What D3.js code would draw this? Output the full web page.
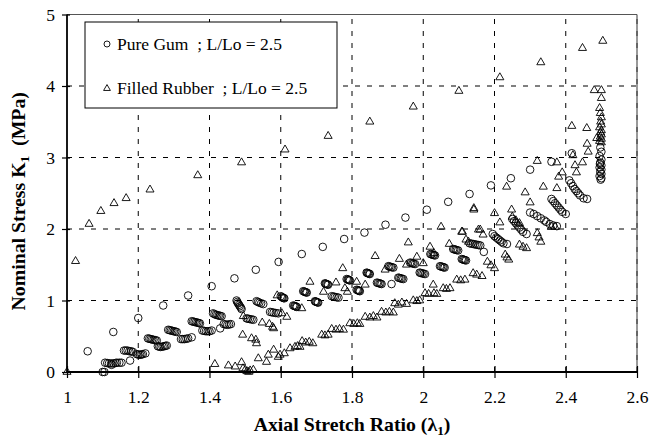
<!DOCTYPE html>
<html><head><meta charset="utf-8">
<script src="https://cdn.jsdelivr.net/npm/d3@7"></script>
<style>body{margin:0;background:#fff}svg{display:block}</style>
</head><body>
<svg id="c" width="667" height="437"></svg>
<script>
const xTicks=[1,1.2,1.4,1.6,1.8,2,2.2,2.4,2.6];
const xTickLabels=["1","1.2","1.4","1.6","1.8","2","2.2","2.4","2.6"];
const yTicks=[0,1,2,3,4,5];
const yTickLabels=["0","1","2","3","4","5"];
const seriesNames=["Pure Gum  ; L/Lo = 2.5","Filled Rubber  ; L/Lo = 2.5"];

// Pure Gum (circles)
const pureGumX=[1.058,1.13,1.20,1.27,1.34,1.406,1.47,1.53,1.594,1.659,1.718,1.778,1.835,1.894,1.95,2.01,2.07,2.13,2.19,2.246,2.30,2.36,2.417,
2.497,2.5,2.495,2.5,2.497,2.5,2.495,2.5,2.497,2.5,2.495,2.5,2.498,2.496,
1.10,1.105,
1.107,1.113,1.118,1.124,1.13,1.136,1.14,1.147,1.153,1.125,1.177,
1.16,1.165,1.17,1.175,1.18,1.185,
1.196,1.2,1.205,1.209,1.213,1.22,
1.227,1.231,1.235,1.239,1.243,1.248,1.252,
1.255,1.259,1.263,1.268,1.272,1.276,1.28,
1.284,1.288,1.292,1.296,1.30,1.304,1.308,
1.32,1.325,1.33,1.335,1.34,1.35,
1.35,1.354,1.358,1.362,1.366,1.37,1.373,
1.38,1.385,1.39,1.395,1.40,1.406,
1.41,1.414,1.418,1.422,1.426,1.43,1.434,1.43,
1.44,1.445,1.45,1.455,1.46,
1.476,1.478,1.48,1.483,1.485,1.488,1.49,
1.504,1.508,1.513,1.518,1.523,
1.532,1.536,1.54,1.545,1.551,
1.57,1.575,1.58,1.586,1.593,
1.60,1.603,1.605,1.608,1.61,
1.635,1.638,1.64,1.643,1.645,
1.663,1.666,1.668,1.671,1.673,
1.696,1.698,1.70,1.703,1.705,
1.724,1.726,1.728,1.731,1.733,
1.743,1.748,1.752,1.757,1.762,
1.785,1.788,1.79,1.792,1.794,
1.813,1.816,1.818,1.82,1.822,
1.841,1.843,1.845,1.848,1.85,
1.87,1.873,1.877,1.88,1.883,
1.902,1.905,1.909,1.912,1.916,1.911,
1.93,1.933,1.937,1.94,1.944,
1.963,1.966,1.97,1.973,1.977,
1.99,1.993,1.997,2.001,2.005,
2.02,2.023,2.027,2.03,2.033,
2.047,2.05,2.054,2.057,2.06,
2.084,2.087,2.091,2.094,2.098,
2.108,2.111,2.114,2.117,2.12,
2.13,2.135,2.14,2.145,2.15,2.155,2.16,2.17,
2.195,2.2,2.205,2.21,2.215,2.22,2.225,2.235,
2.25,2.255,2.26,2.265,2.27,2.275,2.28,2.29,
2.30,2.31,2.32,2.33,2.34,2.345,2.355,2.365,2.375,
2.36,2.365,2.37,2.375,2.38,2.385,2.39,2.40,
2.41,2.415,2.42,2.425,2.43,2.435,2.44,2.45,2.46];
const pureGumY=[0.29,0.56,0.755,0.93,1.07,1.20,1.31,1.43,1.54,1.65,1.75,1.86,1.95,2.06,2.16,2.27,2.38,2.49,2.61,2.71,2.83,2.94,3.06,
3.14,3.08,3.02,2.97,2.93,2.89,2.86,2.83,2.80,2.77,2.74,2.71,2.69,2.91,
0.0,0.0,
0.13,0.125,0.12,0.12,0.12,0.125,0.13,0.13,0.13,0.10,0.16,
0.30,0.30,0.30,0.29,0.29,0.28,
0.25,0.245,0.24,0.245,0.25,0.26,
0.47,0.465,0.46,0.455,0.45,0.445,0.44,
0.36,0.355,0.35,0.355,0.36,0.365,0.37,
0.59,0.585,0.58,0.575,0.57,0.565,0.56,
0.46,0.46,0.46,0.465,0.47,0.485,
0.71,0.705,0.70,0.695,0.69,0.685,0.68,
0.58,0.575,0.57,0.57,0.57,0.58,
0.82,0.81,0.80,0.795,0.79,0.785,0.78,0.61,
0.67,0.665,0.66,0.665,0.67,
1.0,0.98,0.96,0.94,0.92,0.90,0.88,
0.75,0.745,0.74,0.735,0.73,
0.99,0.98,0.97,0.96,0.95,
0.84,0.835,0.83,0.825,0.82,
1.06,1.05,1.04,1.035,1.03,
0.93,0.925,0.92,0.915,0.91,
1.13,1.125,1.12,1.115,1.11,
0.99,0.985,0.98,0.975,0.97,
1.24,1.235,1.23,1.225,1.22,
1.06,1.055,1.05,1.045,1.04,
1.30,1.295,1.29,1.285,1.28,
1.15,1.145,1.14,1.135,1.13,
1.39,1.385,1.38,1.375,1.37,
1.25,1.245,1.24,1.235,1.23,
1.48,1.475,1.47,1.465,1.46,1.23,
1.32,1.315,1.31,1.305,1.30,
1.53,1.525,1.52,1.515,1.51,
1.39,1.385,1.38,1.375,1.37,
1.65,1.645,1.64,1.635,1.63,
1.48,1.475,1.47,1.465,1.46,
1.72,1.715,1.71,1.705,1.70,
1.58,1.575,1.57,1.565,1.56,
1.80,1.795,1.79,1.785,1.78,1.775,1.77,1.68,
1.93,1.90,1.88,1.86,1.84,1.82,1.80,1.79,
2.14,2.11,2.08,2.05,2.02,1.99,1.96,1.93,
2.23,2.21,2.18,2.15,2.12,2.10,2.07,2.05,2.04,
2.42,2.39,2.36,2.33,2.30,2.27,2.24,2.21,
2.68,2.64,2.60,2.56,2.53,2.50,2.47,2.43,2.42];

// Filled Rubber (triangles)
const filledX=[1.0,1.024,1.062,1.095,1.132,1.166,1.233,1.367,1.49,1.612,1.733,1.85,1.972,2.10,2.215,2.33,2.447,2.504,
2.48,2.50,2.50,2.495,2.497,2.5,2.498,2.5,2.495,2.5,2.498,2.5,2.497,2.5,2.495,2.5,
1.415,1.453,1.472,1.49,1.494,1.50,1.505,1.51,1.514,1.523,1.537,1.56,1.565,1.58,1.593,1.598,1.61,1.626,1.64,1.647,1.654,
1.66,1.67,1.68,1.69,1.715,1.724,1.733,1.743,1.755,1.765,1.776,1.794,1.805,1.815,1.822,1.837,1.85,1.86,1.87,
1.883,1.895,1.905,1.916,1.92,1.93,1.94,1.953,1.972,1.982,1.99,2.005,2.015,2.028,2.03,2.038,2.056,2.065,2.075,
2.094,2.105,2.117,2.14,2.15,2.165,2.18,2.19,2.2,2.23,2.235,2.24,2.27,2.28,2.29,2.32,2.325,2.33,2.36,2.37,
1.495,1.493,1.518,1.53,1.532,1.548,1.568,1.577,1.59,1.58,1.603,1.617,1.659,1.682,1.72,1.755,1.774,1.78,1.787,1.813,1.837,
1.865,1.893,1.933,1.953,1.958,1.982,2.0,2.019,2.03,2.05,2.073,2.108,2.12,2.142,2.155,2.234,2.286,2.32,2.375,2.38,2.39,
2.417,2.42,2.426,2.43,2.447,2.459,2.46,2.463,2.487,2.337,2.375,2.142,2.2,2.248,2.30,2.215,2.16,2.11,2.25,2.26,2.27,2.168,2.127];
const filledY=[0.0,1.55,2.07,2.25,2.36,2.43,2.55,2.75,2.93,3.11,3.30,3.50,3.71,3.93,4.12,4.33,4.53,4.63,
3.94,3.94,3.83,3.69,3.62,3.56,3.50,3.46,3.42,3.38,3.35,3.32,3.29,3.26,3.23,3.21,
0.11,0.09,0.075,0.135,0.05,0.03,0.01,0.0,0.02,0.03,0.19,0.14,0.24,0.31,0.21,0.24,0.26,0.33,0.35,0.36,0.35,
0.43,0.41,0.42,0.40,0.52,0.51,0.52,0.60,0.59,0.60,0.59,0.68,0.67,0.68,0.67,0.77,0.76,0.78,0.76,
0.84,0.83,0.84,0.83,0.96,0.94,0.97,0.95,1.0,0.99,1.0,1.10,1.09,1.22,1.10,1.09,1.17,1.16,1.17,
1.29,1.28,1.29,1.38,1.36,1.34,1.54,1.49,1.45,1.64,1.60,1.57,1.78,1.75,1.73,1.94,1.88,1.82,2.03,2.03,
0.78,0.52,0.47,0.45,0.40,0.69,0.67,0.63,1.07,0.61,0.82,0.77,0.89,1.26,1.12,1.25,1.45,1.17,1.12,1.26,1.22,
1.62,1.43,1.58,1.50,1.81,1.61,1.52,1.75,1.66,2.03,1.79,1.96,1.85,2.29,1.99,2.59,2.51,2.95,2.93,2.73,2.79,
3.44,3.03,2.89,2.79,2.93,3.41,3.19,3.08,3.27,2.59,2.57,2.27,2.22,2.27,2.37,2.09,1.99,1.96,2.17,2.12,2.08,1.92,1.82];

const svg=d3.select("#c");
const M={l:67,r:637,t:14.5,b:372};
const x=d3.scaleLinear().domain([1,2.6]).range([M.l,M.r]);
const y=d3.scaleLinear().domain([0,5]).range([M.b,M.t]);
const FONT="'Liberation Serif','Times New Roman',serif";

// gridlines
const g=svg.append("g");
g.selectAll("line.vx").data(xTicks.slice(1)).enter().append("line")
 .attr("x1",d=>x(d)).attr("x2",d=>x(d)).attr("y1",y(0)).attr("y2",y(5))
 .attr("stroke","#000").attr("stroke-width",1).attr("stroke-dasharray","5,7");
g.selectAll("line.hy").data(yTicks.slice(1)).enter().append("line")
 .attr("x1",x(1)).attr("x2",x(2.6)).attr("y1",d=>y(d)).attr("y2",d=>y(d))
 .attr("stroke","#000").attr("stroke-width",1).attr("stroke-dasharray","5,7");
svg.append("line").attr("x1",x(1)).attr("x2",x(2.6)).attr("y1",y(5)).attr("y2",y(5)).attr("stroke","#555").attr("stroke-width",1);
svg.append("line").attr("x1",x(2.6)).attr("x2",x(2.6)).attr("y1",y(5)).attr("y2",y(0)).attr("stroke","#555").attr("stroke-width",1.2);

// points
const pg=d3.range(pureGumX.length).map(i=>({x:pureGumX[i],y:pureGumY[i]}));
const fr=d3.range(filledX.length).map(i=>({x:filledX[i],y:filledY[i]}));
const tri=d3.symbol().type(d3.symbolTriangle).size(28);
svg.append("g").selectAll("path").data(fr).enter().append("path")
 .attr("d",tri).attr("transform",d=>`translate(${x(d.x)},${y(d.y)})`)
 .attr("fill","none").attr("stroke","#000").attr("stroke-width",0.9);
svg.append("g").selectAll("circle").data(pg).enter().append("circle")
 .attr("cx",d=>x(d.x)).attr("cy",d=>y(d.y)).attr("r",3.8)
 .attr("fill","none").attr("stroke","#000").attr("stroke-width",0.9);

// axes
const xa=svg.append("g").attr("transform",`translate(0,${M.b})`)
 .call(d3.axisBottom(x).tickValues(xTicks).tickFormat((d,i)=>xTickLabels[i]).tickSize(6).tickPadding(13));
xa.selectAll(".tick line").attr("y1",-6).attr("y2",6).attr("stroke-width",1.2);
xa.select(".domain").attr("d",`M${M.l},0H${M.r}`).attr("stroke-width",1.8);
xa.selectAll("text").attr("font-family",FONT).attr("font-size",17.5).attr("fill","#000");
const ya=svg.append("g").attr("transform",`translate(${M.l},0)`)
 .call(d3.axisLeft(y).tickValues(yTicks).tickFormat((d,i)=>yTickLabels[i]).tickSize(5).tickPadding(7));
ya.selectAll(".tick line").attr("x1",-5).attr("x2",3).attr("stroke-width",1.2);
ya.select(".domain").attr("d",`M0,${M.b}V${M.t}`).attr("stroke-width",1.8);
ya.selectAll("text").attr("font-family",FONT).attr("font-size",17.5).attr("fill","#000");

// axis titles
const xt=svg.append("text").attr("transform",`translate(${(M.l+M.r)/2},431) scale(1.1,1)`).attr("text-anchor","middle")
 .attr("font-family",FONT).attr("font-size",18).attr("font-weight","bold");
xt.append("tspan").text("Axial Stretch Ratio (λ");
xt.append("tspan").attr("font-size",12).attr("dy",4).text("1");
xt.append("tspan").attr("dy",-4).text(")");
const yt=svg.append("text").attr("transform",`translate(25,${(M.t+M.b)/2 + 8}) rotate(-90) scale(1.1,1)`).attr("text-anchor","middle")
 .attr("font-family",FONT).attr("font-size",18).attr("font-weight","bold");
yt.append("tspan").text("Nominal Stress K");
yt.append("tspan").attr("font-size",12).attr("dy",4).text("1");
yt.append("tspan").attr("dy",-4).style("white-space","pre").text("  (MPa)");

// legend
const lg=svg.append("g");
lg.append("rect").attr("x",85).attr("y",22).attr("width",252).attr("height",86)
 .attr("fill","#fff").attr("stroke","#000").attr("stroke-width",1);
lg.append("circle").attr("cx",107).attr("cy",44).attr("r",3).attr("fill","none").attr("stroke","#000").attr("stroke-width",0.9);
lg.append("path").attr("d",d3.symbol().type(d3.symbolTriangle).size(20)).attr("transform","translate(107,88.5)")
 .attr("fill","none").attr("stroke","#000").attr("stroke-width",0.9);
lg.append("text").attr("x",117).attr("y",50).attr("font-family",FONT).attr("font-size",17.5).style("white-space","pre").text(seriesNames[0]);
lg.append("text").attr("x",117).attr("y",94).attr("font-family",FONT).attr("font-size",17.5).style("white-space","pre").text(seriesNames[1]);
</script>
</body></html>
